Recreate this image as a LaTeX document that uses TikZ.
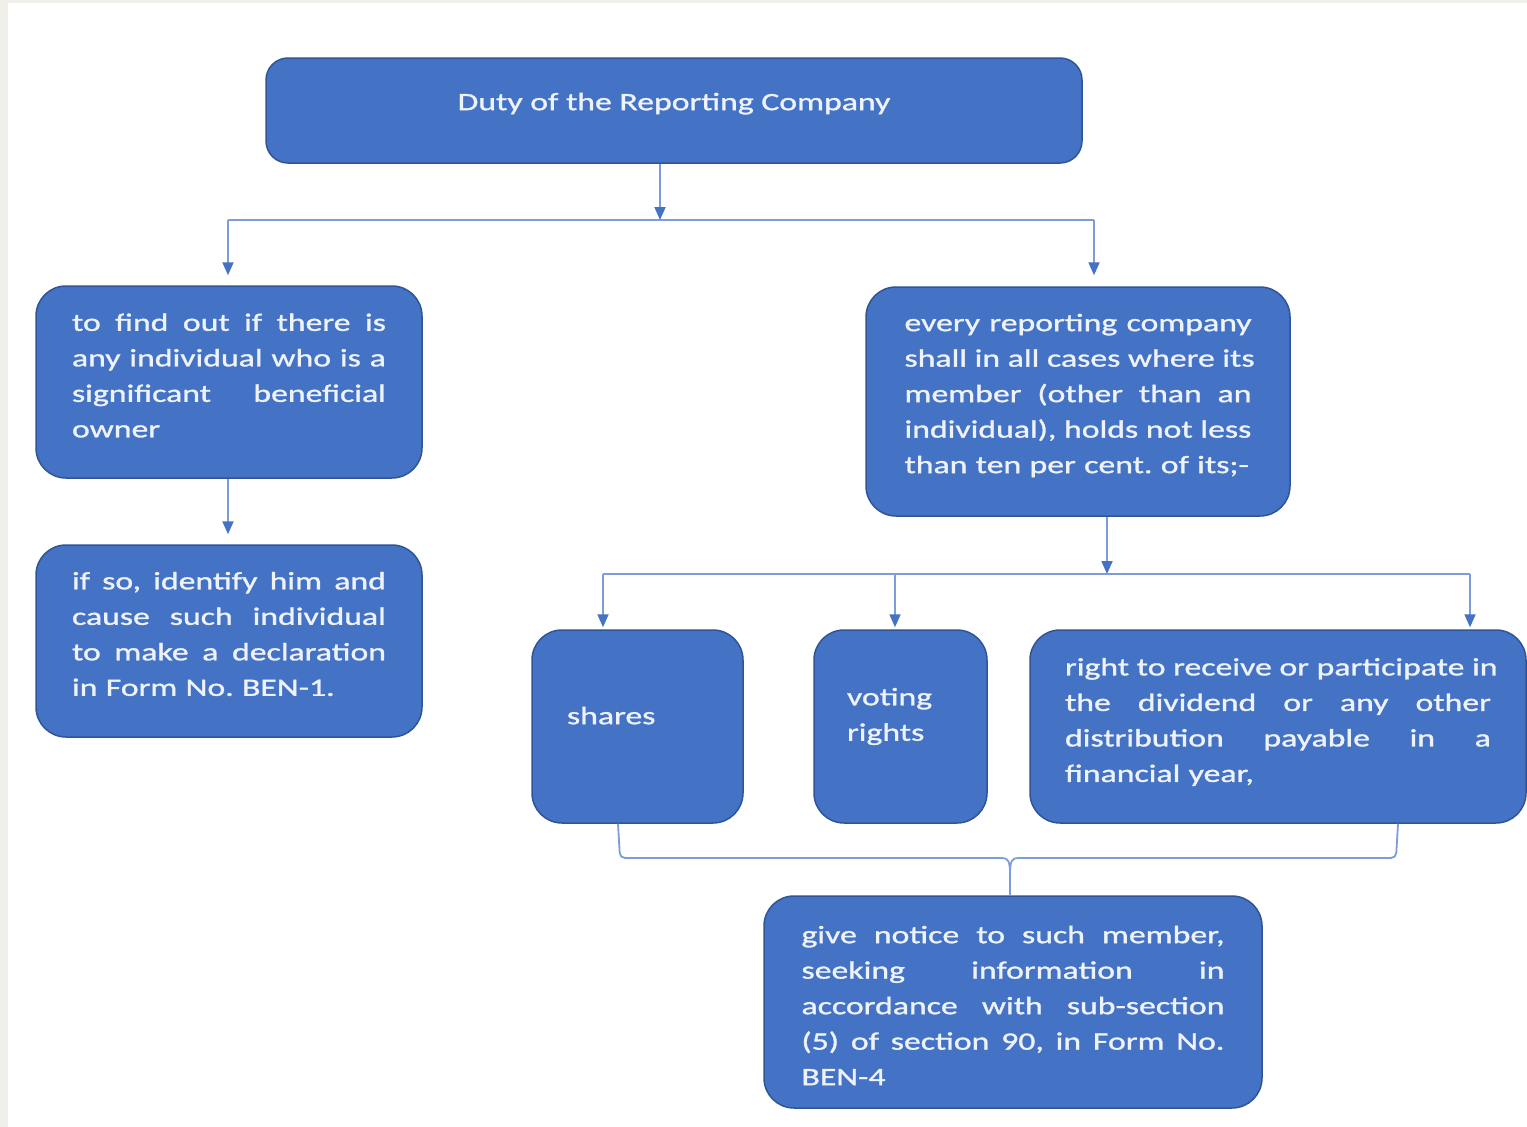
\documentclass[tikz,border=0pt]{standalone}
\usepackage{fontspec}
\setmainfont{Carlito}[FakeStretch=1.35,FakeBold=1.2]
\usetikzlibrary{arrows.meta}
\definecolor{boxblue}{HTML}{4472C4}
\definecolor{boxedge}{HTML}{2F5597}
\definecolor{linkblue}{HTML}{7C9DDA}
\definecolor{marginc}{HTML}{F1EFE9}
\definecolor{boxtext}{HTML}{EEF2FA}
\newcommand{\jl}[1]{\makebox[\hsize][s]{\spaceskip=\fontdimen2\font plus 1fil\relax #1}}
\tikzset{
  box/.style={draw=boxedge, line width=1.5pt, fill=boxblue, rounded corners=30pt,
    text=boxtext, font=\fontsize{25}{35.5}\selectfont\frenchspacing, inner sep=0pt, align=left},
  lift/.style={execute at end node={\par\vspace*{#1}}},
  link/.style={draw=linkblue, line width=1.8pt},
  arr/.style={link, -{Triangle[width=11pt,length=13pt,color=boxblue]}},
}
\begin{document}
\begin{tikzpicture}[x=1pt,y=-1pt]
\useasboundingbox (0,0) rectangle (1527,1127);
\fill[marginc] (0,0) rectangle (1527,1127);
\fill[white] (8,3) rectangle (1527,1127);

% boxes
\node[box, rounded corners=22pt, minimum width=816pt, minimum height=105pt, text depth=18pt] (top) at (674,110.5) {Duty of the Reporting Company};

\node[box, minimum width=386pt, minimum height=192pt, text width=314pt, lift=13pt] (a1) at (229,382) {%
\jl{to find out if there is}\\
\jl{any individual who is a}\\
\jl{significant beneficial}\\
\mbox{owner}};

\node[box, minimum width=386pt, minimum height=192pt, text width=314pt, lift=14pt] (a2) at (229,641) {%
\jl{if so, identify him and}\\
\jl{cause such individual}\\
\jl{to make a declaration}\\
\mbox{in Form No. BEN-1.}};

\node[box, minimum width=424pt, minimum height=229pt, text width=347pt, lift=12pt] (b1) at (1078,401.5) {%
\jl{every reporting company}\\
\jl{shall in all cases where its}\\
\jl{member (other than an}\\
\jl{individual), holds not less}\\
\mbox{than ten per cent. of its;-}};

\node[box, minimum width=211pt, minimum height=193pt, text width=141pt, text depth=22pt] (c1) at (637.5,726.5) {shares};

\node[box, minimum width=173pt, minimum height=193pt, text width=107pt, lift=20pt] (c2) at (900.5,726.5) {voting\\rights};

\node[box, minimum width=496pt, minimum height=193pt, text width=426pt, lift=9pt] (c3) at (1278,726.5) {%
\jl{right to receive or participate in}\\
\jl{the dividend or any other}\\
\jl{distribution payable in a}\\
\mbox{financial year,}};

\node[box, minimum width=498pt, minimum height=212pt, text width=423pt, lift=-7pt] (d) at (1013,1002) {%
\jl{give notice to such member,}\\
\jl{seeking information in}\\
\jl{accordance with sub-section}\\
\jl{(5) of section 90, in Form No.}\\
\mbox{BEN-4}};

% connectors, level 1
\coordinate (j1) at (660,220);
\coordinate (jl) at (228,220);
\coordinate (jr) at (1094,220);
\draw[arr] (top.south -| j1) -- (j1);
\draw[link] (jl) -- (jr);
\draw[arr, shorten >=10pt] (jl) -- (jl |- a1.north);
\draw[arr, shorten >=11pt] (jr) -- (jr |- b1.north);
\draw[arr, shorten >=10pt] (a1.south -| jl) -- (a2.north -| jl);

% connectors, level 2
\coordinate (j2) at (1107,574);
\coordinate (k1) at (603,574);
\coordinate (k2) at (895,574);
\coordinate (k3) at (1470,574);
\draw[arr] (b1.south -| j2) -- (j2);
\draw[link] (k1) -- (k3);
\draw[arr, shorten >=2pt] (k1) -- (k1 |- c1.north);
\draw[arr, shorten >=2pt] (k2) -- (k2 |- c2.north);
\draw[arr, shorten >=2pt] (k3) -- (k3 |- c3.north);

% bracket to bottom box
\coordinate (bL) at (618,858);
\coordinate (bR) at (1398,858);
\coordinate (bm) at (1010,858);
\draw[link, rounded corners=5pt] (c1.south -| bL) -- ([xshift=2pt]bL) -- ([xshift=-8pt]bm);
\draw[link] ([xshift=-8pt]bm) .. controls ([xshift=-2pt]bm) and ([yshift=-3pt]bm) .. ([yshift=-16pt]bm) -- (d.north -| bm);
\draw[link, rounded corners=5pt] (c3.south -| bR) -- ([xshift=-2pt]bR) -- ([xshift=8pt]bm);
\draw[link] ([xshift=8pt]bm) .. controls ([xshift=2pt]bm) and ([yshift=-3pt]bm) .. ([yshift=-16pt]bm);
\end{tikzpicture}
\end{document}
